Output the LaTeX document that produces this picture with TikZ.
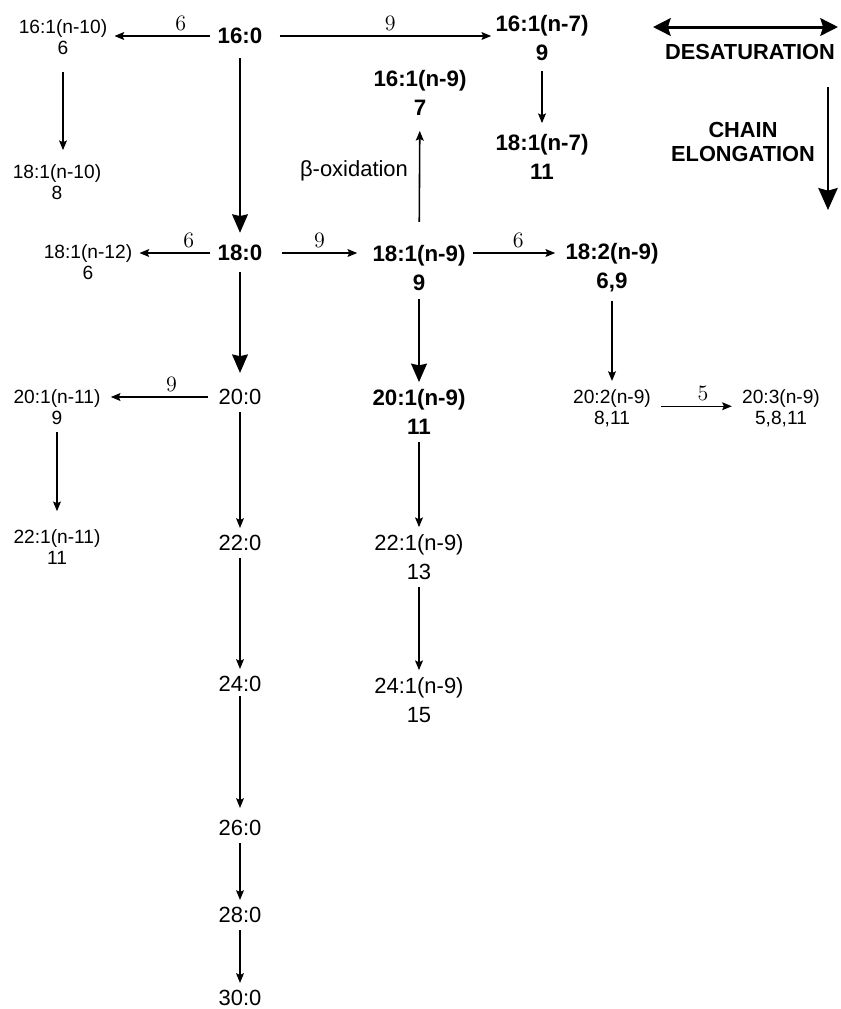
\documentclass[tikz,border=0pt]{standalone}
\usepackage{fix-cm}
\usepackage[no-math]{fontspec}
\setmainfont{Liberation Sans}
\usepackage{tikz}
\usetikzlibrary{positioning,arrows.meta}

\begin{document}
\begin{tikzpicture}[
    x=0.02cm, y=-0.02cm,
    every node/.style={inner sep=0.08cm, align=center},
    big/.style={font=\fontsize{12.5}{16.5}\selectfont},
    bigb/.style={font=\fontsize{12.7}{16.5}\selectfont\bfseries},
    small/.style={font=\fontsize{10.9}{12}\selectfont},
    keytxt/.style={font=\fontsize{12.4}{14.2}\selectfont\bfseries},
    lbl/.style={font=\fontsize{12.5}{14}\selectfont, inner sep=0.1cm},
    arr/.style={-{Stealth[length=5.5pt, width=4.5pt, inset=1pt]}, line width=0.65pt,
                shorten <=0.06cm, shorten >=0.06cm},
    fat/.style={-{Stealth[length=10.5pt, width=9pt, inset=1pt]}, line width=1.1pt},
    desat/.style={{Stealth[length=10pt, width=10pt, inset=1.5pt]}-{Stealth[length=10pt, width=10pt, inset=1.5pt]},
                  line width=1.7pt},
    elong/.style={-{Stealth[length=12.5pt, width=11pt, inset=1.5pt]}, line width=1.4pt}
]
\useasboundingbox (0,0) rectangle (841,1009);

\node[bigb] (c160) at (240,36) {16:0};
\node[bigb] (c180) at (240,253) {18:0};
\node[big] (c200) at (240,397) {20:0};
\node[big] (c220) at (240,543) {22:0};
\node[big] (c240) at (240,684) {24:0};
\node[big] (c260) at (240,828) {26:0};
\node[big] (c280) at (240,915) {28:0};
\node[big] (c300) at (240,998) {30:0};

\node[small] (c161n10) at (63,37) {16:1(n-10)\\6};
\node[small] (c181n10) at (57,182) {18:1(n-10)\\8};
\node[small] (c181n12) at (88,262) {18:1(n-12)\\6};
\node[small] (c201n11) at (57,407) {20:1(n-11)\\9};
\node[small] (c221n11) at (57,547) {22:1(n-11)\\11};

\node[bigb] (c161n7) at (542,38) {16:1(n-7)\\9};
\node[bigb] (c181n7) at (542,157) {18:1(n-7)\\11};
\node[bigb] (c161n9) at (420,93) {16:1(n-9)\\7};
\node[bigb] (c181n9) at (419,268) {18:1(n-9)\\9};
\node[bigb] (c201n9) at (419,412) {20:1(n-9)\\11};
\node[big] (c221n9) at (419,557) {22:1(n-9)\\13};
\node[big] (c241n9) at (419,700) {24:1(n-9)\\15};
\node[bigb] (c182n9) at (612,268) {18:2(n-9)\\6,9};
\node[small] (c202n9) at (612,408) {20:2(n-9)\\8,11};
\node[small] (c203n9) at (781,408) {20:3(n-9)\\5,8,11};

\node[big] (beta) at (354,171) {β-oxidation};
\node[keytxt] (desattxt) at (750,52) {DESATURATION};
\node[keytxt] (elongtxt) at (743,142) {CHAIN\\ELONGATION};
\coordinate (dl) at (653,27);
\coordinate (dr) at (838,27);
\coordinate (et) at (828,87);
\coordinate (eb) at (828,210);

\draw[arr] (c160.west) -- node[lbl, above, pos=0.32] (l1) {$6$} (c160.west -| c161n10.east);
\draw[arr, shorten <=0.26cm, shorten >=0cm] (c160.east) -- node[lbl, above, pos=0.55] (l2) {$9$} (c160.east -| c161n7.west);
\draw[arr] (c180.west) -- node[lbl, above, pos=0.32] (l3) {$6$} (c180.west -| c181n12.east);
\draw[arr, shorten <=0.3cm, shorten >=0.22cm] (c180.east) -- node[lbl, above, pos=0.52] (l4) {$9$} (c180.east -| c181n9.west);
\draw[arr, shorten >=0.12cm] (c180.east -| c181n9.east) -- node[lbl, above, pos=0.53] (l5) {$6$} (c180.east -| c182n9.west);
\draw[arr, shorten <=0.12cm, shorten >=0.12cm] (c200.west) -- node[lbl, above, pos=0.39] (l6) {$9$} (c200.west -| c201n11.east);
\draw[arr, shorten <=0.12cm, shorten >=0.12cm] ([yshift=1pt]c202n9.east) -- node[lbl, above, pos=0.58] (l7) {$5$} ([yshift=1pt]c202n9.east -| c203n9.west);

\draw[fat, shorten <=0.2cm, shorten >=0.16cm] (c160) -- (c180);
\draw[fat, shorten <=0.14cm, shorten >=0.24cm] (c180) -- (c200);
\draw[fat, shorten <=0.08cm, shorten >=0.06cm] (c181n9) -- (c201n9);

\draw[arr, shorten <=0.12cm, shorten >=0.14cm] (c161n7) -- (c181n7);
\draw[arr, shorten <=0.26cm, shorten >=0.2cm] (c161n10.south) -- (c161n10.south |- c181n10.north);
\draw[arr, shorten <=0.08cm, shorten >=0.08cm] (c182n9) -- (c202n9);
\draw[arr, shorten >=0.28cm] (c201n11) -- (c221n11);
\draw[arr] (c200) -- (c220);
\draw[arr] (c201n9) -- (c221n9);
\draw[arr] (c220) -- (c240);
\draw[arr, shorten <=0cm, shorten >=0.16cm] (c240) -- (c260);
\draw[arr] (c260) -- (c280);
\draw[arr] (c280) -- (c300);
\draw[arr] (c221n9) -- (c241n9);
\draw[arr, line width=0.9pt, shorten <=0.38cm, shorten >=0.22cm] (c181n9) -- (c161n9);

\draw[desat] (dl) -- (dr);
\draw[elong] (et) -- (eb);
\end{tikzpicture}
\end{document}
